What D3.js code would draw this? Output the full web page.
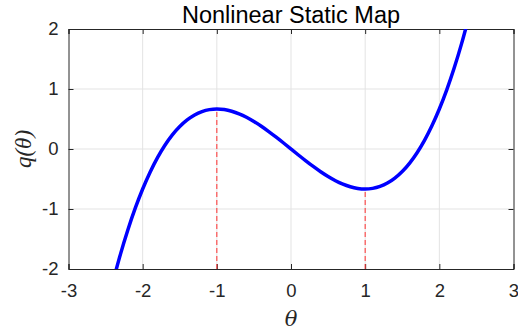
<!DOCTYPE html>
<html>
<head>
<meta charset="utf-8">
<script src="https://cdn.jsdelivr.net/npm/d3@7"></script>
<style>
  body { margin: 0; background: #fff; }
  svg text { font-family: "Liberation Sans", Arial, sans-serif; fill: #262626; }
</style>
</head>
<body>
<div id="chart"></div>
<script>
// values
const theta = [-2.4, -2.3, -2.2, -2.1, -2.0, -1.9, -1.8, -1.7, -1.6, -1.5, -1.4, -1.3, -1.2, -1.1, -1.0,
  -0.9, -0.8, -0.7, -0.6, -0.5, -0.4, -0.3, -0.2, -0.1, 0.0, 0.1, 0.2, 0.3, 0.4, 0.5, 0.6, 0.7, 0.8, 0.9,
  1.0, 1.1, 1.2, 1.3, 1.4, 1.5, 1.6, 1.7, 1.8, 1.9, 2.0, 2.1, 2.2, 2.3, 2.4];
const q = [-2.208, -1.756, -1.349, -0.987, -0.667, -0.387, -0.144, 0.062, 0.235, 0.375, 0.485, 0.568, 0.624, 0.656, 0.667,
  0.657, 0.629, 0.586, 0.528, 0.458, 0.379, 0.291, 0.197, 0.100, 0.0, -0.100, -0.197, -0.291, -0.379, -0.458, -0.528, -0.586, -0.629, -0.657,
  -0.667, -0.656, -0.624, -0.568, -0.485, -0.375, -0.235, -0.062, 0.144, 0.387, 0.667, 0.987, 1.349, 1.756, 2.208];
const extrema = [[-1, 0.667], [1, -0.667]];
const xTicks = [-3, -2, -1, 0, 1, 2, 3];
const yTicks = [-2, -1, 0, 1, 2];

const W = 518, H = 335;
const margin = { top: 29, right: 4.5, bottom: 66, left: 68.5 },
  width = W - margin.left - margin.right,
  height = H - margin.top - margin.bottom;

const svg = d3.select("#chart").append("svg")
  .attr("width", W).attr("height", H);

const g = svg.append("g")
  .attr("transform", "translate(" + margin.left + "," + margin.top + ")");

const x = d3.scaleLinear().domain([-3, 3]).range([0, width]);
const y = d3.scaleLinear().domain([-2, 2]).range([height, 0]);

g.append("defs").append("clipPath").attr("id", "clip")
  .append("rect").attr("width", width).attr("height", height);

// grid
g.append("g").selectAll("line").data(xTicks.slice(1, -1)).enter().append("line")
  .attr("x1", d => x(d)).attr("x2", d => x(d)).attr("y1", 0).attr("y2", height)
  .style("stroke", "#e3e3e3").style("stroke-width", 1);
g.append("g").selectAll("line").data(yTicks.slice(1, -1)).enter().append("line")
  .attr("y1", d => y(d)).attr("y2", d => y(d)).attr("x1", 0).attr("x2", width)
  .style("stroke", "#e3e3e3").style("stroke-width", 1);

// axes, ticks inside
const xAxis = g.append("g").attr("transform", "translate(0," + height + ")")
  .call(d3.axisBottom(x).tickValues(xTicks).tickSize(-5).tickPadding(15).tickFormat(d3.format("d")));
const xTop = g.append("g")
  .call(d3.axisTop(x).tickValues(xTicks).tickSize(-5).tickFormat(""));
const yAxis = g.append("g")
  .call(d3.axisLeft(y).tickValues(yTicks).tickSize(-5).tickPadding(10).tickFormat(d3.format("d")));
const yRight = g.append("g").attr("transform", "translate(" + width + ",0)")
  .call(d3.axisRight(y).tickValues(yTicks).tickSize(-5).tickFormat(""));

[xAxis, xTop, yAxis, yRight].forEach(a => {
  a.select(".domain").style("stroke", "#262626").style("stroke-width", 1);
  a.selectAll(".tick line").style("stroke", "#262626");
  a.selectAll(".tick text").style("font-size", "18.5px").style("fill", "#262626")
    .style("font-family", "'Liberation Sans', Arial, sans-serif");
});
xAxis.selectAll(".tick text").text(d => d < 0 ? "-" + Math.abs(d) : d);
yAxis.selectAll(".tick text").text(d => d < 0 ? "-" + Math.abs(d) : d);

const area = g.append("g").attr("clip-path", "url(#clip)");

// dashed markers at the extrema
area.selectAll(".vline").data(extrema).enter().append("line")
  .attr("class", "vline")
  .attr("x1", d => x(d[0])).attr("x2", d => x(d[0]))
  .attr("y1", y(-2)).attr("y2", d => y(d[1]))
  .style("stroke", "#ff3030").style("stroke-width", 1)
  .style("stroke-dasharray", "5,3");

const line = d3.line()
  .x((d, i) => x(theta[i]))
  .y(d => y(d))
  .curve(d3.curveNatural);

area.append("path")
  .attr("d", line(q))
  .attr("fill", "none")
  .style("stroke", "#0000ff")
  .style("stroke-width", 3.5);

// title and labels
svg.append("text")
  .attr("x", margin.left + width / 2).attr("y", 23)
  .attr("text-anchor", "middle")
  .style("font-size", "23.5px").style("fill", "#000")
  .text("Nonlinear Static Map");

svg.append("text")
  .attr("x", margin.left + x(0)).attr("y", 326)
  .attr("text-anchor", "middle")
  .style("font-family", "'DejaVu Serif', 'Liberation Serif', serif")
  .style("font-style", "italic").style("font-size", "21px")
  .text("θ");

svg.append("text")
  .attr("transform", "translate(31," + (margin.top + height / 2) + ") rotate(-90)")
  .attr("text-anchor", "middle")
  .style("font-family", "'Liberation Serif', serif")
  .style("font-style", "italic").style("font-size", "23px")
  .text("q(θ)");
</script>
</body>
</html>
